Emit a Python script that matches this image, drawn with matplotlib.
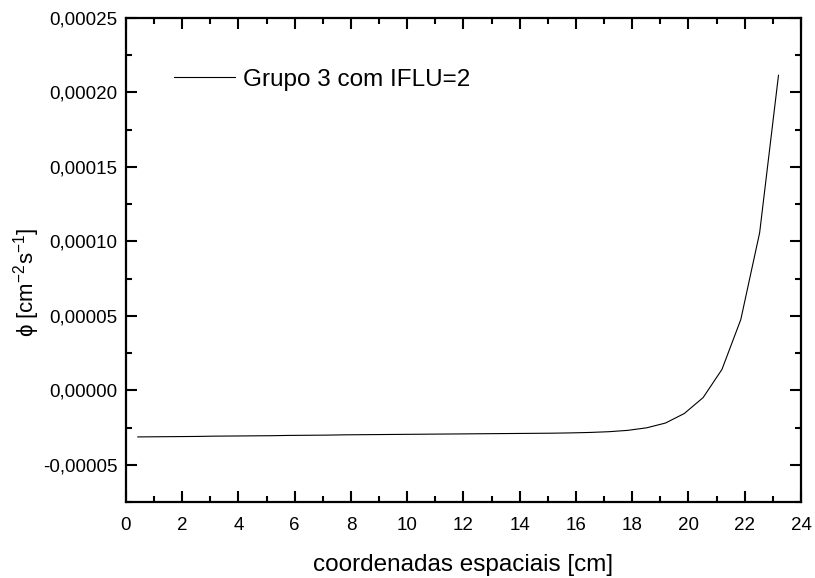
import matplotlib
matplotlib.use("Agg")
import matplotlib.pyplot as plt
from matplotlib.ticker import MultipleLocator, FuncFormatter

plt.rcParams['font.family'] = ['Liberation Sans', 'DejaVu Sans']
plt.rcParams['mathtext.fontset'] = 'custom'
plt.rcParams['mathtext.rm'] = 'Liberation Sans'

# flux profile along the slab (group 3, IFLU=2)
x_cm = [0.42, 1.09, 1.76, 2.43, 3.10, 3.77, 4.44, 5.11, 5.78, 6.45,
        7.12, 7.79, 8.46, 9.13, 9.80, 10.47, 11.14, 11.81, 12.48, 13.15,
        13.82, 14.49, 15.16, 15.83, 16.50, 17.17, 17.84, 18.51, 19.18, 19.85,
        20.52, 21.19, 21.86, 22.53, 23.20]
phi_e5 = [-3.13, -3.12, -3.11, -3.10, -3.08, -3.07, -3.06, -3.05, -3.03, -3.02,
          -3.01, -2.99, -2.98, -2.97, -2.96, -2.95, -2.94, -2.93, -2.92, -2.91,
          -2.90, -2.89, -2.88, -2.86, -2.83, -2.78, -2.69, -2.52, -2.20, -1.56,
          -0.49, 1.40, 4.75, 10.58, 21.15]
phi = [v * 1e-5 for v in phi_e5]

legend_label = "Grupo 3 com IFLU=2"
x_label = "coordenadas espaciais [cm]"
y_label = r"ϕ [cm$^{\mathregular{-2}}$s$^{\mathregular{-1}}$]"

fig = plt.figure(figsize=(8.15, 5.78), dpi=100)
ax = fig.add_axes([0.1546, 0.1315, 0.8282, 0.8374])

ax.plot(x_cm, phi, color='black', linewidth=0.8, label=legend_label)

ax.set_xlim(0, 24)
ax.set_ylim(-0.000075, 0.00025)
ax.xaxis.set_major_locator(MultipleLocator(2))
ax.xaxis.set_minor_locator(MultipleLocator(1))
ax.yaxis.set_major_locator(MultipleLocator(0.00005))
ax.yaxis.set_minor_locator(MultipleLocator(0.000025))
ax.yaxis.set_major_formatter(FuncFormatter(lambda v, p: f"{v:.5f}".replace('.', ',').replace('-0,00000', '0,00000')))

ax.tick_params(which='both', direction='in', top=True, right=True, width=1.5, labelsize=13.5)
ax.tick_params(which='major', length=8)
ax.tick_params(which='minor', length=4)
ax.tick_params(axis='x', pad=11)
ax.tick_params(axis='y', pad=6)
for s in ax.spines.values():
    s.set_linewidth(1.6)

ax.set_xlabel(x_label, fontsize=17.5, labelpad=14)
ax.set_ylabel(y_label, fontsize=16)
ax.yaxis.set_label_coords(-0.1244, 0.4545)

ax.legend(loc='center left', bbox_to_anchor=(0.071, 0.872), frameon=False,
          fontsize=17.5, handlelength=2.5, handletextpad=0.35,
          borderpad=0, borderaxespad=0)

fig.savefig("out.png", dpi=100)
